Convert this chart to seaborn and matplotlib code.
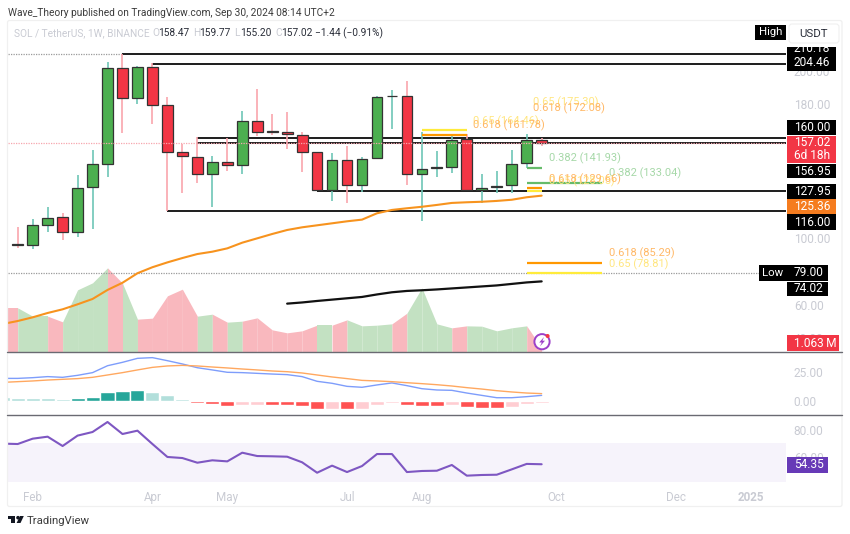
import matplotlib
matplotlib.use("Agg")
import numpy as np
import pandas as pd
import seaborn as sns
import matplotlib.pyplot as plt
from matplotlib.patches import Rectangle, Circle, Polygon, FancyBboxPatch

# ---------- data ----------
candle_idx = list(range(0, 36))
opens = [96.3,95.8,107.6,112.4,103.8,130.4,144.5,201.8,184.0,202.2,179.5,151.3,148.7,138.3,145.7,143.5,169.9,163.9,163.3,161.9,
         151.3,128.7,146.5,131.9,147.9,184.9,184.9,138.3,141.9,142.5,159.1,128.6,130.4,131.6,144.8,158.47]
highs = [106.8,111.4,118.7,114.8,137.7,152.7,205.2,210.18,203.2,205.0,184.6,156.1,160.7,149.3,159.9,176.0,189.0,174.0,175.6,163.3,
         151.7,151.1,155.3,148.5,185.2,188.6,194.2,163.7,152.3,162.1,162.1,138.1,140.1,152.5,162.1,159.77]
lows = [94.0,93.4,103.6,98.8,100.8,105.4,136.7,162.7,180.2,168.1,116.3,126.8,133.1,118.7,140.1,138.1,161.1,161.7,153.1,139.7,
        128.3,122.2,121.1,127.7,147.1,165.4,131.6,110.4,136.3,138.7,128.1,120.8,127.1,127.1,141.7,155.20]
closes = [95.7,107.8,112.2,103.8,129.9,144.1,201.8,184.0,202.2,179.6,151.5,148.9,138.3,145.7,143.5,169.9,163.7,163.4,162.2,151.5,
          128.9,146.5,131.9,147.5,184.4,185.2,138.3,141.3,142.3,158.7,128.6,130.1,131.3,144.5,158.5,157.02]

line_idx = list(range(-1, 36))
ema = [48.5,50.3,52.5,55.1,57.3,60.3,63.5,68.9,73.2,78.9,82.5,85.4,88.0,90.4,91.8,93.8,97.2,99.8,102.4,104.8,106.4,107.6,108.8,
       110.0,111.0,114.8,116.8,117.8,118.7,119.8,121.0,121.4,121.7,122.2,122.9,124.4,125.36]
ma_idx = list(range(18, 36))
ma_long = [60.7,61.4,62.3,63.1,63.9,64.7,66.2,67.5,68.3,68.7,69.2,69.8,70.4,71.0,71.6,72.5,73.4,74.02]
volume = [13.1,13.1,10.6,10.6,8.9,18.5,20.6,25.1,20.5,9.7,10.0,16.7,18.7,10.6,11.2,8.8,9.1,10.1,6.5,5.6,6.2,7.9,7.9,9.5,7.7,7.9,
          8.3,11.5,19.1,8.3,7.1,7.7,7.6,6.2,7.1,7.7,1.063]
macd = [19.3,19.3,19.9,20.8,20.2,21.9,24.2,30.1,33.0,36.4,37.0,34.4,31.6,28.4,26.5,24.5,24.2,23.6,23.0,22.5,20.8,16.8,15.1,12.5,
        11.7,13.7,15.4,13.1,10.5,9.4,9.1,6.8,4.8,2.8,2.8,3.7,4.8]
signal = [15.9,16.5,17.1,17.9,18.5,19.1,20.2,22.2,24.2,26.5,28.7,29.9,30.4,29.9,29.0,28.2,27.3,26.5,25.6,25.0,23.9,22.2,20.5,19.1,
          17.6,17.1,16.5,15.6,14.8,13.9,12.8,11.4,10.2,8.8,7.7,6.8,6.3]
hist = [3.1,2.6,2.6,2.6,1.7,2.8,3.7,8.0,8.5,9.7,8.0,4.8,1.7,-1.7,-2.8,-4.3,-3.4,-3.2,-3.4,-3.5,-4.3,-6.5,-6.5,-7.1,-6.5,-3.4,
        -1.4,-3.7,-4.3,-4.6,-3.7,-5.1,-5.7,-5.8,-4.8,-2.6,-2.0]
rsi = [69.8,69.5,73.5,75.0,68.0,75.8,78.5,86.0,77.0,79.5,69.5,59.8,59.0,55.5,57.3,56.5,63.0,60.5,60.3,60.0,55.8,48.0,53.3,48.5,
       53.0,62.0,62.0,48.5,49.3,49.5,53.8,45.8,46.3,46.5,50.5,54.6,54.35]

# level: (value, first bar index)
level_values = [210.18, 204.46, 160.00, 156.95, 127.95, 116.00]
level_starts = [7, 9, 12, 12, 20, 10]
# fibonacci segments
fib_levels = [164.46, 161.78, 141.93, 133.04, 129.66, 128.05, 85.29, 78.81]
fib_starts = [27, 27, 34, 34, 34, 34, 34, 34]
fib_ends = [30, 30, 35, 39, 35, 35, 39, 39]
fib_kinds = ["y", "o", "g", "g", "o", "y", "o", "y"]

month_pos = [1, 9, 14, 22, 27, 36, 44, 49]
month_labels = ["Feb", "Apr", "May", "Jul", "Aug", "Oct", "Dec", "2025"]

price_ticks = [40, 60, 100, 180, 200]
macd_ticks = [0, 25]
rsi_ticks = [60, 80]

# ---------- style ----------
sns.set_theme(style="white")
FONT = "Roboto"
plt.rcParams["font.family"] = [FONT, "DejaVu Sans"]
W, H = 850, 534
fig = plt.figure(figsize=(W / 100, H / 100), dpi=100, facecolor="white")

GRAY = "#c9cbd3"
GREEN, RED = "#4caf50", "#f23645"
GREEN_W, RED_W = "#6ec6b6", "#f9a5ad"
VOL_G, VOL_R = "#c3e1c2", "#f9b8be"
FIB = {"y": "#ffeb3b", "o": "#ff9800", "g": "#66bb6a"}
FIB_T = {"y": "#ffe680", "o": "#ffb866", "g": "#a6d8a8"}
LAB = 8.6

L, R = 7.5, 786.0
PX_BAR, I0 = 14.97, 17.7
xlim = ((L - I0) / PX_BAR, (R - I0) / PX_BAR)


def pane(y0, y1, z):
    a = fig.add_axes([L / W, 1 - y1 / H, (R - L) / W, (y1 - y0) / H], zorder=z)
    a.patch.set_visible(False)
    for s in a.spines.values():
        s.set_visible(False)
    a.set_xlim(*xlim)
    a.set_xticks([])
    a.set_xlabel("")
    a.set_ylabel("")
    return a


def axis_right(a, ticks):
    a.yaxis.tick_right()
    a.set_yticks(ticks)
    a.set_yticklabels([f"{t:.2f}" for t in ticks], color=GRAY, fontsize=LAB)
    a.tick_params(axis="y", length=0, pad=5.6)


# ---------- volume ----------
TOP, MAIN_B, MACD_B, RSI_B = 20.5, 351.5, 415.0, 481.7
vol = pane(TOP, MAIN_B, 1)
vol.set_ylim(0, (MAIN_B - TOP) * 0.3)
vol.set_yticks([])
for k in range(len(volume) - 1):
    col = VOL_G if closes[k] >= opens[k] else VOL_R
    vol.fill_between(line_idx[k:k + 2], 0, volume[k:k + 2], color=col, lw=0)

# ---------- price pane ----------
main = pane(TOP, MAIN_B, 2)
PX_UNIT = 1.67
main.set_ylim(100 - (MAIN_B - 238) / PX_UNIT, 100 + (238 - TOP) / PX_UNIT)
axis_right(main, price_ticks)

main.axhline(157.02, color="#f7a6ae", lw=0.9, ls=(0, (1, 1)), zorder=6)
main.axhline(79, color="#9a9a9a", lw=0.9, ls=(0, (1, 1)), zorder=1)
main.plot([xlim[0], 7], [210.18, 210.18], color="#9a9a9a", lw=0.9, ls=(0, (1, 1)), zorder=1)
for v, s in zip(level_values, level_starts):
    main.plot([s, xlim[1]], [v, v], color="#1c1c1c", lw=1.4, zorder=2, solid_capstyle="butt")

for i, o, h, lo, c in zip(candle_idx, opens, highs, lows, closes):
    up = c >= o
    main.vlines(i, lo, h, color=GREEN_W if up else RED_W, lw=1.2, zorder=3)
    main.bar(i, abs(c - o), bottom=min(o, c), width=0.72, color=GREEN if up else RED,
             edgecolor="#333333", linewidth=0.9, zorder=4)

sns.lineplot(x=line_idx, y=ema, ax=main, color="#f7931e", lw=1.5, errorbar=None, zorder=5)
sns.lineplot(x=ma_idx, y=ma_long, ax=main, color="#111111", lw=1.6, errorbar=None, zorder=5)
for v, s, e, k in zip(fib_levels, fib_starts, fib_ends, fib_kinds):
    main.plot([s, e], [v, v], color=FIB[k], lw=1.6, zorder=5, solid_capstyle="butt")
main.set_xlabel("")
main.set_ylabel("")

# ---------- MACD ----------
mp = pane(MAIN_B, MACD_B, 2)
mp.set_ylim(-(MACD_B - 401) / 1.172, (401 - MAIN_B) / 1.172)
axis_right(mp, macd_ticks)
cols = []
for k, v in enumerate(hist):
    prev = hist[k - 1] if k else v
    if v >= 0:
        cols.append("#26a69a" if v > prev else "#b2dfdb")
    else:
        cols.append("#ff5252" if v < prev else "#ffcdd2")
hdf = pd.DataFrame({"x": line_idx, "v": hist, "c": cols})
sns.barplot(data=hdf, x="x", y="v", hue="c", palette={c: c for c in set(cols)}, native_scale=True, width=0.94,
            dodge=False, legend=False, saturation=1, ax=mp, zorder=2)
sns.lineplot(x=line_idx, y=macd, ax=mp, color="#7e9dfb", lw=1.0, errorbar=None, zorder=3)
sns.lineplot(x=line_idx, y=signal, ax=mp, color="#ffa860", lw=1.0, errorbar=None, zorder=3)
mp.set_xlim(*xlim)
mp.set_xticks([])
mp.set_xlabel("")
mp.set_ylabel("")
for s in mp.spines.values():
    s.set_visible(False)

# ---------- RSI ----------
rp = pane(MACD_B, RSI_B, 2)
rp.set_ylim(80 - (RSI_B - 430) / 1.335, 80 + (430 - MACD_B) / 1.335)
axis_right(rp, rsi_ticks)
rp.axhspan(rp.get_ylim()[0], 70, color="#f6f3fb", lw=0, zorder=0)
sns.lineplot(x=line_idx, y=rsi, ax=rp, color="#7e57c2", lw=1.5, errorbar=None, zorder=3)
rp.set_xlim(*xlim)
rp.set_xlabel("")
rp.set_ylabel("")
rp.set_xticks(month_pos)
rp.set_xticklabels(month_labels, color=GRAY, fontsize=8.4)
rp.get_xticklabels()[-1].set_fontweight("bold")
rp.tick_params(axis="x", length=0, pad=7)

# ---------- overlay in pixel coordinates ----------
ov = fig.add_axes([0, 0, 1, 1], zorder=10)
ov.set_xlim(0, W)
ov.set_ylim(H, 0)
ov.axis("off")
ov.patch.set_visible(False)

ov.add_patch(FancyBboxPatch((7.5, 20.5), 834.5, 486, boxstyle="round,pad=0,rounding_size=2", fc="none", ec="#f0f0f0", lw=0.9, zorder=0))
for y in (MAIN_B, MACD_B):
    ov.plot([7.5, 842], [y, y], color="#6a6a72", lw=1.0, zorder=1)

def T(x, y, s, c="#131722", size=LAB, ha="left", va="center", **kw):
    return ov.text(x, y, s, color=c, fontsize=size, ha=ha, va=va, zorder=8, **kw)

HEAD = 7.3
T(8, 12.5, "Wave_Theory published on TradingView.com, Sep 30, 2024 08:14 UTC+2", "#3c3c3c", HEAD)
T(14, 33.5, "SOL / TetherUS, 1W, BINANCE", GRAY, HEAD)
for x, lab, val in [(152, "O", "158.47"), (193, "H", "159.77"), (234, "L", "155.20"), (275, "C", "157.02")]:
    T(x, 33.5, lab, GRAY, HEAD)
    T(x + 6.5, 33.5, val, "#2a2e39", HEAD)
T(315, 33.5, "−1.44 (−0.91%)", "#2a2e39", HEAD)

# fib captions
for x, y, s, k in [(473, 121.7, "0.65 (164.46)", "y"), (473, 125.7, "0.618 (161.78)", "o"),
                   (533.5, 102.7, "0.65 (175.30)", "y"), (533.5, 108.3, "0.618 (172.08)", "o"),
                   (548.7, 158.3, "0.382 (141.93)", "g"), (608.7, 173.3, "0.382 (133.04)", "g"),
                   (548.7, 181.7, "0.65 (128.05)", "y"), (548.7, 179.3, "0.618 (129.66)", "o"),
                   (608.7, 253.3, "0.618 (85.29)", "o"), (608.7, 264.3, "0.65 (78.81)", "y")]:
    T(x, y, s, FIB_T[k], 7.9)

# price tags
def tag(x0, x1, y0, y1, s, fc, tc="white", ty=None, size=LAB):
    ov.add_patch(Rectangle((x0, y0), x1 - x0, y1 - y0, fc=fc, ec="none", zorder=6))
    T(x0 + 7, (y0 + y1) / 2 if ty is None else ty, s, tc, size)

ov.add_patch(FancyBboxPatch((789, 24), 50, 19, boxstyle="round,pad=0,rounding_size=3", fc="white", ec="#f0f0f0", lw=0.8, zorder=6))
T(814, 34, "USDT", "#2a2e39", 8.2, ha="center")
ov.add_patch(Rectangle((755, 25), 31, 15, fc="black", ec="none", zorder=6))
T(770.5, 32.3, "High", "white", 8.2, ha="center")

tag(786.7, 835.7, 46.7, 71, "204.46", "black", ty=63)
T(793.7, 48.5, "210.18", "white", LAB, clip_on=True).set_clip_path(Rectangle((786.7, 46.7), 49, 10, transform=ov.transData))
tag(786.7, 835.7, 120, 135, "160.00", "black")
ov.add_patch(Rectangle((786.7, 135.7), 49, 27.6, fc=RED, ec="none", zorder=6))
T(793.7, 143, "157.02", "white")
T(793.7, 155.5, "6d 18h", "white")
tag(786.7, 835.7, 164, 178.3, "156.95", "black")
tag(786.7, 835.7, 184, 199, "127.95", "black")
tag(786.7, 835.7, 199, 214.3, "125.36", "#f57c1f")
tag(786.7, 835.7, 214.3, 230, "116.00", "black")
ov.add_patch(Rectangle((759, 265), 28, 15.7, fc="black", ec="none", zorder=6))
T(773, 272.8, "Low", "white", 8.2, ha="center")
tag(786.7, 828, 265, 280.7, "79.00", "black")
tag(786.7, 828, 281.7, 296, "74.02", "black")
tag(786.7, 839, 335.3, 351, "1.063\u2009M", RED)
tag(786.7, 828, 457.3, 472.7, "54.35", "#673ab7")

# alert icon
ov.add_patch(Circle((542, 341.7), 7.6, fc="white", ec="#9c3fc9", lw=1.4, zorder=7))
ov.add_patch(Polygon([(544, 337), (539.2, 342.5), (541.8, 342.5), (540, 346.4), (545, 340.7), (542.4, 340.7)], fc="#9c3fc9", ec="none", zorder=8))
ov.add_patch(Circle((547.6, 336), 2.0, fc="#f23645", ec="none", zorder=9))

# TradingView footer
ov.add_patch(Polygon([(8, 516), (15.5, 516), (15.5, 523), (11.5, 523), (11.5, 519.3), (8, 519.3)], fc="#131722", ec="none"))
ov.add_patch(Circle((18, 517.7), 1.8, fc="#131722", ec="none"))
ov.add_patch(Polygon([(20, 516), (23.8, 516), (20.5, 523), (16.6, 523)], fc="#131722", ec="none"))
T(26.3, 520.8, "TradingView", "#3c3c3c", 8.2)

fig.savefig("out.png", dpi=100, facecolor="white")
